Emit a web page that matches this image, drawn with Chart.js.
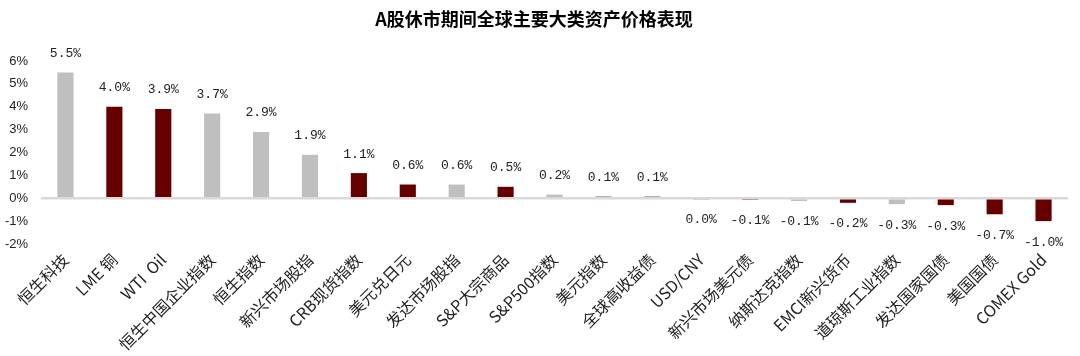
<!DOCTYPE html>
<html>
<head>
<meta charset="utf-8">
<script src="https://cdn.jsdelivr.net/npm/chart.js@4"></script>
<style>
html,body{margin:0;padding:0;background:#fff;}
#wrap{width:1080px;height:356px;position:relative;}
</style>
</head>
<body>
<div id="wrap"><canvas id="c" width="1080" height="356"></canvas></div>
<script>
const categories = ["恒生科技","LME 铜","WTI  Oil","恒生中国企业指数","恒生指数","新兴市场股指","CRB现货指数","美元兑日元","发达市场股指","S&P大宗商品","S&P500指数","美元指数","全球高收益债","USD/CNY","新兴市场美元债","纳斯达克指数","EMCI新兴货币","道琼斯工业指数","发达国家国债","美国国债","COMEX Gold"];
const values = [5.5,4.0,3.9,3.7,2.9,1.9,1.1,0.6,0.6,0.5,0.16,0.07,0.07,-0.03,-0.07,-0.12,-0.2,-0.26,-0.3,-0.7,-1.0];
const groups = ["g","r","r","g","g","g","r","r","g","r","g","r","r","g","r","g","r","g","r","r","r"];
const yTicks = [-2,-1,0,1,2,3,4,5,6];
const title = "A股休市期间全球主要大类资产价格表现";

const colorMap = {g:"#bfbfbf", r:"#660000"};
const FONT = "'Noto Sans CJK SC','Liberation Sans',Arial,sans-serif";
const MONO = "'Liberation Mono','DejaVu Sans Mono',monospace";

function fmt(v){
  if (Math.abs(v) < 0.05) return "0.0%";
  return v.toFixed(1) + "%";
}

const labelPlugin = {
  id: "barLabels",
  afterDatasetsDraw(chart){
    const ctx = chart.ctx;
    const meta = chart.getDatasetMeta(0);
    ctx.save();
    ctx.font = "13px " + MONO;
    ctx.fillStyle = "#222";
    ctx.textAlign = "center";
    ctx.textBaseline = "middle";
    meta.data.forEach((bar, i) => {
      const v = values[i];
      const y = v >= 0 ? bar.y - 19 : bar.y + 21;
      ctx.fillText(fmt(v), bar.x, y);
    });
    ctx.restore();
  }
};

new Chart(document.getElementById("c"), {
  type: "bar",
  data: {
    labels: categories,
    datasets: [{
      data: values,
      backgroundColor: groups.map(g => colorMap[g]),
      borderWidth: 0,
      categoryPercentage: 1.0,
      barPercentage: 0.33
    }]
  },
  options: {
    responsive: false,
    animation: false,
    layout: { padding: { left: 0, right: 12, top: 0, bottom: 0 } },
    plugins: {
      legend: { display: false },
      tooltip: { enabled: false },
      title: {
        display: true,
        text: title,
        color: "#000",
        font: { family: FONT, size: 18, weight: "bold", lineHeight: 1.2 },
        padding: { top: 8, bottom: 31.4 }
      }
    },
    scales: {
      x: {
        grid: { display: false, drawTicks: false },
        border: { display: false },
        ticks: {
          autoSkip: false,
          maxRotation: 45,
          minRotation: 45,
          padding: 6,
          color: "#222",
          font: { family: FONT, size: 16 }
        },
        afterFit(scale){ scale.height = 112; }
      },
      y: {
        min: -2,
        max: 6,
        afterBuildTicks(scale){ scale.ticks = yTicks.map(v => ({value: v})); },
        grid: {
          drawTicks: false,
          color: ctx => (ctx.tick && ctx.tick.value === 0) ? "#d9d9d9" : "rgba(0,0,0,0)",
          lineWidth: ctx => (ctx.tick && ctx.tick.value === 0) ? 2.5 : 0
        },
        border: { display: false },
        ticks: {
          padding: 13,
          color: "#222",
          font: { family: "'Liberation Sans',Arial,sans-serif", size: 13 },
          callback: v => v + "%"
        },
        afterFit(scale){ scale.width = 41; }
      }
    }
  },
  plugins: [labelPlugin]
});
</script>
</body>
</html>
